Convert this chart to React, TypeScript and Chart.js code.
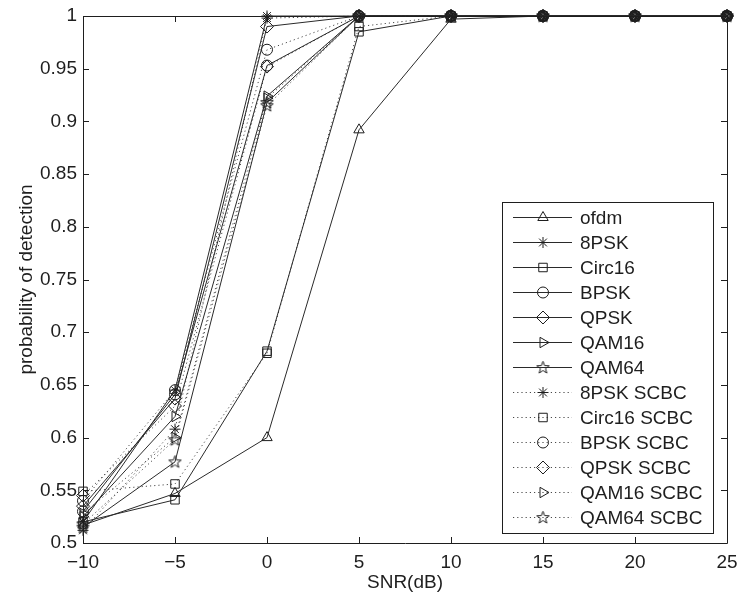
import React, { useEffect, useRef } from 'react';
import { Chart, registerables } from 'chart.js';
import { drawPoint } from 'chart.js/helpers';

Chart.register(...registerables);

// ---------------- data ----------------
const snrDb = [-10, -5, 0, 5, 10, 15, 20, 25];
const xTickValues = [-10, -5, 0, 5, 10, 15, 20, 25];
const yTickValues = [0.5, 0.55, 0.6, 0.65, 0.7, 0.75, 0.8, 0.85, 0.9, 0.95, 1];

const seriesLabels = [
  'ofdm', '8PSK', 'Circ16', 'BPSK', 'QPSK', 'QAM16', 'QAM64',
  '8PSK SCBC', 'Circ16 SCBC', 'BPSK SCBC', 'QPSK SCBC', 'QAM16 SCBC', 'QAM64 SCBC',
];

const ofdm = [0.517, 0.547, 0.6, 0.892, 0.997, 1, 1, 1];
const psk8 = [0.52, 0.645, 1.0, 1, 1, 1, 1, 1];
const circ16 = [0.52, 0.541, 0.682, 0.985, 1, 1, 1, 1];
const bpsk = [0.53, 0.641, 0.953, 1, 1, 1, 1, 1];
const qpsk = [0.535, 0.637, 0.99, 1, 1, 1, 1, 1];
const qam16 = [0.525, 0.62, 0.924, 1, 1, 1, 1, 1];
const qam64 = [0.515, 0.577, 0.918, 1, 1, 1, 1, 1];
const psk8Scbc = [0.512, 0.608, 0.998, 1, 1, 1, 1, 1];
const circ16Scbc = [0.549, 0.556, 0.68, 0.99, 1, 1, 1, 1];
const bpskScbc = [0.54, 0.645, 0.968, 1, 1, 1, 1, 1];
const qpskScbc = [0.545, 0.63, 0.952, 1, 1, 1, 1, 1];
const qam16Scbc = [0.528, 0.6, 0.922, 1, 1, 1, 1, 1];
const qam64Scbc = [0.518, 0.598, 0.915, 1, 1, 1, 1, 1];

const seriesValues = [
  ofdm, psk8, circ16, bpsk, qpsk, qam16, qam64,
  psk8Scbc, circ16Scbc, bpskScbc, qpskScbc, qam16Scbc, qam64Scbc,
];

// ---------------- styles ----------------
const FONT = "'Liberation Sans', Arial, Helvetica, sans-serif";
const INK = '#1e1e1e';

function makePentagram(): HTMLCanvasElement {
  const c = document.createElement('canvas');
  c.width = 15;
  c.height = 15;
  const g = c.getContext('2d')!;
  const cx = 7.5, cy = 7.8, ro = 6.5, ri = 2.7;
  g.beginPath();
  for (let i = 0; i < 10; i++) {
    const r = i % 2 === 0 ? ro : ri;
    const a = -Math.PI / 2 + (i * Math.PI) / 5;
    const px = cx + r * Math.cos(a);
    const py = cy + r * Math.sin(a);
    if (i === 0) g.moveTo(px, py); else g.lineTo(px, py);
  }
  g.closePath();
  g.strokeStyle = INK;
  g.lineWidth = 1;
  g.stroke();
  return c;
}

type MarkerStyle = { style: any; rotation: number; radius: number };

function markerStyles(star: HTMLCanvasElement): MarkerStyle[] {
  const base: MarkerStyle[] = [
    { style: 'triangle', rotation: 0, radius: 6 },
    { style: 'star', rotation: 0, radius: 5.5 },
    { style: 'rect', rotation: 0, radius: 6 },
    { style: 'circle', rotation: 0, radius: 5.5 },
    { style: 'rectRot', rotation: 0, radius: 6.5 },
    { style: 'triangle', rotation: 90, radius: 6 },
    { style: star, rotation: 0, radius: 6 },
  ];
  return [...base, ...base.slice(1)];
}

const axesPlugin = {
  id: 'matlabAxes',
  afterDatasetsDraw(chart: any) {
    const { ctx, chartArea: a, scales } = chart;
    const tl = 6;
    ctx.save();
    ctx.strokeStyle = INK;
    ctx.lineWidth = 1;
    ctx.beginPath();
    ctx.rect(Math.round(a.left) + 0.5, Math.round(a.top) + 0.5, Math.round(a.right - a.left), Math.round(a.bottom - a.top));
    for (const t of scales.x.ticks) {
      const px = Math.round(scales.x.getPixelForValue(t.value)) + 0.5;
      ctx.moveTo(px, a.bottom); ctx.lineTo(px, a.bottom - tl);
      ctx.moveTo(px, a.top); ctx.lineTo(px, a.top + tl);
    }
    for (const t of scales.y.ticks) {
      const py = Math.round(scales.y.getPixelForValue(t.value)) + 0.5;
      ctx.moveTo(a.left, py); ctx.lineTo(a.left + tl, py);
      ctx.moveTo(a.right, py); ctx.lineTo(a.right - tl, py);
    }
    ctx.stroke();
    ctx.restore();
  },
};

const legendPlugin = {
  id: 'matlabLegend',
  afterDraw(chart: any) {
    const { ctx, chartArea: a } = chart;
    const ds = chart.data.datasets;
    const rowH = 25;
    const w = 211;
    const h = 15 + rowH * (ds.length - 1) + 16;
    const right = a.right - 14;
    const bottom = a.bottom - 10;
    const left = right - w;
    const top = bottom - h;
    ctx.save();
    ctx.fillStyle = '#ffffff';
    ctx.fillRect(left, top, w, h);
    ctx.strokeStyle = INK;
    ctx.lineWidth = 1;
    ctx.strokeRect(Math.round(left) + 0.5, Math.round(top) + 0.5, w, h);
    ds.forEach((d: any, i: number) => {
      const y = Math.round(top + 15 + i * rowH) + 0.5;
      ctx.beginPath();
      ctx.setLineDash(d.borderDash || []);
      ctx.strokeStyle = d.borderColor;
      ctx.lineWidth = 1;
      ctx.moveTo(left + 11, y);
      ctx.lineTo(left + 70, y);
      ctx.stroke();
      ctx.setLineDash([]);
      ctx.strokeStyle = d.pointBorderColor;
      ctx.fillStyle = 'rgba(0,0,0,0)';
      ctx.lineWidth = 1;
      drawPoint(ctx, { pointStyle: d.pointStyle, rotation: d.pointRotation, radius: d.pointRadius, borderWidth: 1 }, left + 41, y);
      ctx.fillStyle = INK;
      ctx.font = `19px ${FONT}`;
      ctx.textBaseline = 'middle';
      ctx.textAlign = 'left';
      ctx.fillText(d.label, left + 78, y + 1);
    });
    ctx.restore();
  },
};

export default function App() {
  const ref = useRef<HTMLCanvasElement | null>(null);

  useEffect(() => {
    if (!ref.current) return;
    const star = makePentagram();
    const markers = markerStyles(star);
    const datasets = seriesLabels.map((label, i) => {
      const dotted = i >= 7;
      const m = markers[i];
      return {
        label,
        data: snrDb.map((x, k) => ({ x, y: seriesValues[i][k] })),
        borderColor: dotted ? '#4a4a4a' : '#2a2a2a',
        borderWidth: 1,
        borderDash: dotted ? [1.2, 3] : [],
        pointStyle: m.style,
        pointRotation: m.rotation,
        pointRadius: m.radius,
        pointBorderColor: INK,
        pointBackgroundColor: 'rgba(0,0,0,0)',
        pointBorderWidth: 1,
        tension: 0,
        fill: false,
        clip: false as any,
      };
    });

    const chart = new Chart(ref.current, {
      type: 'line',
      data: { datasets },
      options: {
        animation: false,
        responsive: true,
        maintainAspectRatio: false,
        layout: { padding: { top: 16, right: 13, left: 0, bottom: 0 } },
        plugins: { legend: { display: false }, tooltip: { enabled: false } },
        scales: {
          x: {
            type: 'linear',
            min: -10,
            max: 25,
            afterBuildTicks: (s: any) => { s.ticks = xTickValues.map((v) => ({ value: v })); },
            afterFit: (s: any) => { s.height = 54; s.paddingLeft = 0; s.paddingRight = 0; },
            grid: { display: false, drawTicks: false },
            border: { display: false },
            ticks: {
              color: INK,
              font: { family: FONT, size: 19 },
              padding: 8,
              callback: (v: any) => String(v).replace('-', '\u2212'),
            },
            title: {
              display: true,
              text: 'SNR(dB)',
              color: INK,
              font: { family: FONT, size: 19 },
              padding: { top: 0, bottom: 3 },
            },
          },
          y: {
            type: 'linear',
            min: 0.5,
            max: 1,
            afterBuildTicks: (s: any) => { s.ticks = yTickValues.map((v) => ({ value: v })); },
            afterFit: (s: any) => { s.width = 83; s.paddingTop = 0; s.paddingBottom = 0; },
            grid: { display: false, drawTicks: false },
            border: { display: false },
            ticks: {
              color: INK,
              font: { family: FONT, size: 19 },
              padding: 6,
              callback: (v: any) => String(Number(Number(v).toFixed(2))),
            },
            title: {
              display: true,
              text: 'probability of detection',
              color: INK,
              font: { family: FONT, size: 19 },
              padding: { top: 15, bottom: 0 },
            },
          },
        },
      },
      plugins: [axesPlugin, legendPlugin],
    });
    return () => chart.destroy();
  }, []);

  return (
    <div style={{ position: 'absolute', left: 0, top: 0, width: 740, height: 597, background: '#fff' }}>
      <canvas ref={ref} />
    </div>
  );
}
